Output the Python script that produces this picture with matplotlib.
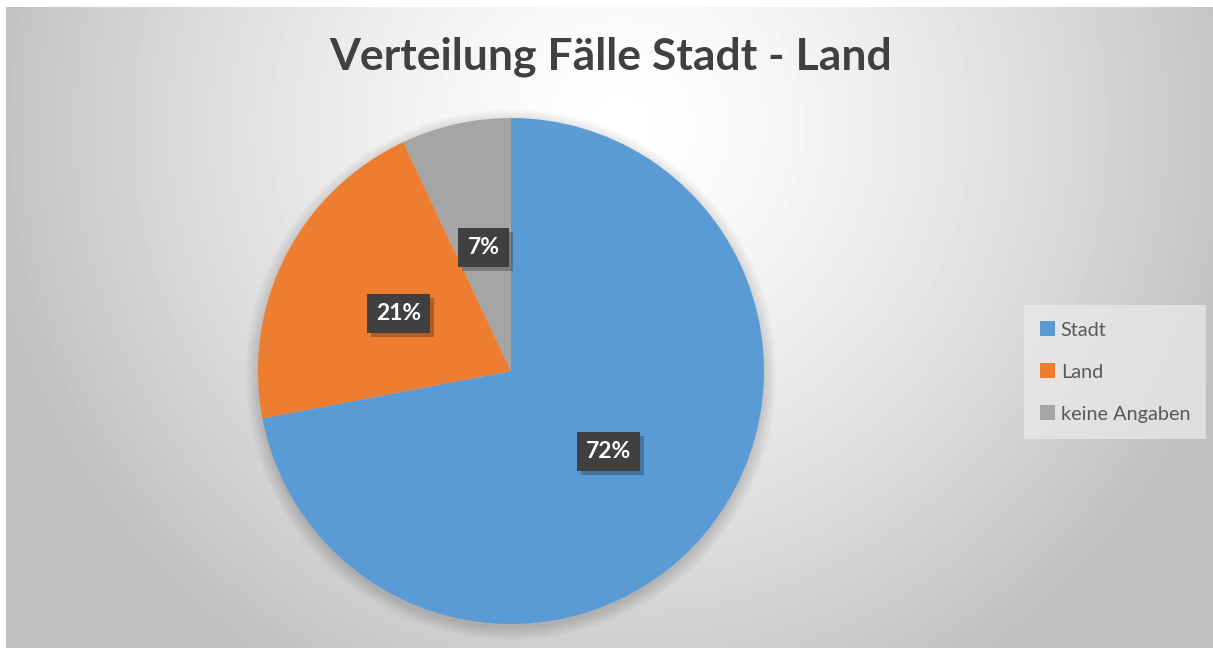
import matplotlib
matplotlib.use("Agg")
import matplotlib.pyplot as plt
import matplotlib.patheffects as pe
from matplotlib.patches import Circle
import numpy as np

# Daten
kategorien = ["Stadt", "Land", "keine Angaben"]
anteile = [72, 21, 7]
farben = ["#5B9BD5", "#ED7D31", "#A5A5A5"]
titel = "Verteilung Fälle Stadt - Land"

plt.rcParams['font.family'] = ['Lato', 'DejaVu Sans']

W, H = 1213, 648
fig = plt.figure(figsize=(W / 100, H / 100), dpi=100)
fig.patch.set_facecolor("white")

# Hintergrund mit radialem Verlauf (wie Excel)
bg = fig.add_axes([6 / W, 0, 1 - 6 / W, 1 - 7 / H], zorder=0)
yy, xx = np.mgrid[0:H - 7, 0:W - 6]
r = np.sqrt(((xx - 614) / 600.0) ** 2 + ((yy - 120) / 600.0) ** 2)
grau = np.clip(1 - 0.225 * r ** 1.4, 0.75, 1.0)
bg.imshow(grau, cmap="gray", vmin=0, vmax=1, aspect="auto", interpolation="bilinear")
bg.set_axis_off()

# Kreisdiagramm
cx, cy, rad = 511, 371, 253
ax = fig.add_axes([(cx - rad) / W, (H - cy - rad) / H, 2 * rad / W, 2 * rad / H], zorder=1)

# weicher Schatten hinter dem Kreis
for k in np.linspace(0.05, 0.0, 12):
    ax.add_patch(Circle((0, -0.015), 1 + k, facecolor="black", edgecolor="none",
                        alpha=0.012, clip_on=False, zorder=0))

wedges, texts, autotexts = ax.pie(anteile, colors=farben, startangle=90, counterclock=False,
                                  autopct='%1.0f%%', pctdistance=0.5,
                                  wedgeprops=dict(linewidth=0, zorder=1),
                                  textprops=dict(color="white", fontsize=16.5, fontweight="bold"))
ax.set_xlim(-1, 1)
ax.set_ylim(-1, 1)

for t in autotexts:
    t.set_bbox(dict(boxstyle="square,pad=0.4", facecolor="#404040", edgecolor="none"))
    t.get_bbox_patch().set_path_effects([pe.SimplePatchShadow(offset=(3, -3), shadow_rgbFace="black", alpha=0.25), pe.Normal()])

fig.text(0.503, 1 - 57 / H, titel, ha="center", va="center", fontsize=32, fontweight="bold", color="#404040")

leg = fig.legend(wedges, kategorien, loc="center left", bbox_to_anchor=(1014 / W, 1 - 372 / H),
                 frameon=True, fancybox=False, fontsize=14.3, labelspacing=1.25,
                 handlelength=0.75, handleheight=0.75, handletextpad=0.3, borderpad=0.8)
leg.get_frame().set_facecolor("#ebebeb")
leg.get_frame().set_alpha(0.7)
leg.get_frame().set_edgecolor("none")
for t in leg.get_texts():
    t.set_color("#595959")

fig.savefig("out.png", dpi=100)
